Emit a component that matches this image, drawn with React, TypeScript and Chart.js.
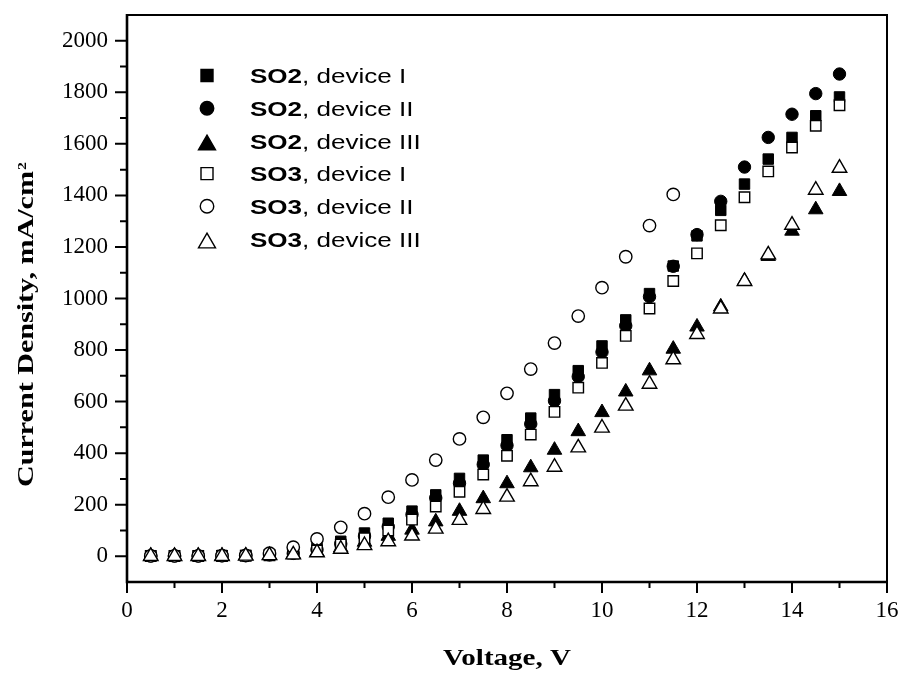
import React, { useEffect, useRef } from 'react';
import { Chart, registerables } from 'chart.js';

Chart.register(...registerables);

// ---------- data ----------
const voltage = [0.5, 1, 1.5, 2, 2.5, 3, 3.5, 4, 4.5, 5, 5.5, 6, 6.5, 7, 7.5, 8, 8.5, 9, 9.5, 10, 10.5, 11, 11.5, 12, 12.5, 13, 13.5, 14, 14.5, 15];

const so2DeviceI = [2, 2, 2, 3, 3, 6, 14, 32, 58, 90, 128, 175, 238, 302, 373, 452, 536, 627, 720, 816, 917, 1019, 1126, 1243, 1342, 1444, 1541, 1625, 1709, 1782];
const so2DeviceII = [1, 1, 1, 2, 2, 5, 11, 25, 48, 78, 115, 162, 226, 283, 356, 430, 513, 603, 697, 792, 894, 1007, 1125, 1248, 1377, 1510, 1625, 1715, 1795, 1871];
const so2DeviceIII = [1, 1, 1, 1, 2, 3, 7, 16, 33, 55, 78, 102, 134, 175, 224, 282, 344, 412, 484, 558, 638, 720, 804, 890, 968, 1068, 1164, 1262, 1345, 1416];
const so3DeviceI = [1, 1, 1, 1, 2, 4, 10, 22, 45, 70, 100, 142, 193, 250, 317, 390, 472, 560, 654, 750, 855, 961, 1068, 1175, 1284, 1393, 1493, 1586, 1670, 1750];
const so3DeviceII = [1, 1, 1, 2, 3, 12, 35, 67, 112, 165, 229, 296, 373, 455, 539, 632, 726, 827, 932, 1042, 1162, 1283, 1404];
const so3DeviceIII = [0, 0, 0, 0, 1, 3, 6, 14, 28, 42, 57, 79, 106, 140, 182, 230, 290, 346, 421, 498, 583, 668, 763, 861, 960, 1067, 1170, 1285, 1421, 1506];

const xMajorTicks = [0, 2, 4, 6, 8, 10, 12, 14, 16];
const xMinorTicks = [1, 3, 5, 7, 9, 11, 13, 15];
const yMajorTicks = [0, 200, 400, 600, 800, 1000, 1200, 1400, 1600, 1800, 2000];
const yMinorTicks = [100, 300, 500, 700, 900, 1100, 1300, 1500, 1700, 1900];
const xRange = [0, 16];
const yRange = [-100, 2100];

const xTitle = 'Voltage, V';
const yTitle = 'Current Density, mA/cm';
const yTitleSup = '2';

const compounds = ['SO2', 'SO2', 'SO2', 'SO3', 'SO3', 'SO3'];
const devices = ['device I', 'device II', 'device III', 'device I', 'device II', 'device III'];
const seriesValues = [so2DeviceI, so2DeviceII, so2DeviceIII, so3DeviceI, so3DeviceII, so3DeviceIII];
const markerShapes = ['rect', 'circle', 'triangle', 'rect', 'circle', 'triangle'];
const markerFilled = [true, true, true, false, false, false];

// ---------- styles ----------
const SERIF = "'Liberation Serif', 'Times New Roman', Times, serif";
const SANS = "'Liberation Sans', Arial, Helvetica, sans-serif";
const pointRadius: Record<string, number> = { rect: 7.4, circle: 6.2, triangle: 8.4 };
const legendSize: Record<string, number> = { rect: 12, circle: 13.5, triangle: 17 };

function drawMarker(ctx: CanvasRenderingContext2D, shape: string, filled: boolean, x: number, y: number, size: number) {
  ctx.save();
  ctx.lineWidth = 1.4;
  ctx.strokeStyle = '#000';
  ctx.fillStyle = filled ? '#000' : '#fff';
  ctx.beginPath();
  if (shape === 'rect') {
    ctx.rect(x - size / 2, y - size / 2, size, size);
  } else if (shape === 'circle') {
    ctx.arc(x, y, size / 2, 0, Math.PI * 2);
  } else {
    const h = size * 0.866;
    ctx.moveTo(x, y - h / 2);
    ctx.lineTo(x + size / 2, y + h / 2);
    ctx.lineTo(x - size / 2, y + h / 2);
    ctx.closePath();
  }
  ctx.fill();
  ctx.stroke();
  ctx.restore();
}

function stretchedText(ctx: CanvasRenderingContext2D, text: string, x: number, y: number, sx: number) {
  ctx.save();
  ctx.translate(x, y);
  ctx.scale(sx, 1);
  ctx.fillText(text, 0, 0);
  ctx.restore();
}

const decorPlugin = {
  id: 'decor',
  afterDraw(chart: any) {
    const { ctx, chartArea: a, scales } = chart;
    const xs = scales.x;
    const ys = scales.y;
    ctx.save();
    ctx.strokeStyle = '#000';
    ctx.fillStyle = '#000';
    ctx.lineCap = 'butt';

    // frame
    ctx.lineWidth = 2;
    ctx.strokeRect(a.left, a.top, a.right - a.left, a.bottom - a.top);
    ctx.lineWidth = 2.6;
    ctx.beginPath();
    ctx.moveTo(a.left, a.top - 1);
    ctx.lineTo(a.left, a.bottom);
    ctx.lineTo(a.right + 1, a.bottom);
    ctx.stroke();

    // ticks
    ctx.lineWidth = 2;
    ctx.beginPath();
    xMajorTicks.forEach((v) => {
      const p = xs.getPixelForValue(v);
      ctx.moveTo(p, a.bottom);
      ctx.lineTo(p, a.bottom + 11);
    });
    xMinorTicks.forEach((v) => {
      const p = xs.getPixelForValue(v);
      ctx.moveTo(p, a.bottom);
      ctx.lineTo(p, a.bottom + 6);
    });
    yMajorTicks.forEach((v) => {
      const p = ys.getPixelForValue(v);
      ctx.moveTo(a.left, p);
      ctx.lineTo(a.left - 12, p);
    });
    yMinorTicks.forEach((v) => {
      const p = ys.getPixelForValue(v);
      ctx.moveTo(a.left, p);
      ctx.lineTo(a.left - 7, p);
    });
    ctx.stroke();

    // x title
    ctx.font = `bold 24px ${SERIF}`;
    ctx.textBaseline = 'alphabetic';
    ctx.textAlign = 'center';
    stretchedText(ctx, xTitle, (a.left + a.right) / 2, a.bottom + 83, 1.21);

    // y title (rotated)
    ctx.save();
    ctx.translate(33, a.bottom - 95);
    ctx.rotate(-Math.PI / 2);
    ctx.textAlign = 'left';
    ctx.font = `bold 24px ${SERIF}`;
    const w = ctx.measureText(yTitle).width;
    const sy = 316 / w;
    stretchedText(ctx, yTitle, 0, 0, sy);
    ctx.font = `bold 13px ${SERIF}`;
    stretchedText(ctx, yTitleSup, w * sy + 1, -7, 1.2);
    ctx.restore();

    // legend
    const lx = a.left + 80;
    const tx = a.left + 123;
    const ty0 = a.top + 60.5;
    const dy = 32.7;
    const sxL = 1.24;
    ctx.textAlign = 'left';
    ctx.textBaseline = 'alphabetic';
    compounds.forEach((c, i) => {
      const cy = ty0 + i * dy;
      const shape = markerShapes[i];
      const off = shape === 'triangle' ? 1.5 : 0;
      drawMarker(ctx, shape, markerFilled[i], lx, cy + off, legendSize[shape]);
      ctx.font = `bold 21px ${SANS}`;
      stretchedText(ctx, c, tx, cy + 7.8, sxL);
      const bw = ctx.measureText(c).width * sxL;
      ctx.font = `21px ${SANS}`;
      stretchedText(ctx, ', ' + devices[i], tx + bw, cy + 7.8, sxL);
    });

    ctx.restore();
  },
};

export default function App() {
  const canvasRef = useRef<HTMLCanvasElement | null>(null);

  useEffect(() => {
    const canvas = canvasRef.current;
    if (!canvas) return;
    const datasets = seriesValues.map((vals, i) => {
      const shape = markerShapes[i];
      const filled = markerFilled[i];
      return {
        label: `${compounds[i]}, ${devices[i]}`,
        data: vals.map((v, j) => ({ x: voltage[j], y: v })),
        pointStyle: shape,
        pointRadius: pointRadius[shape],
        pointHoverRadius: pointRadius[shape],
        backgroundColor: filled ? '#000' : '#fff',
        borderColor: '#000',
        borderWidth: filled ? 1 : 1.4,
        showLine: false,
        order: 6 - i,
      };
    });

    const zeroPadding = (s: any) => {
      s.paddingTop = 0;
      s.paddingBottom = 0;
      s.paddingLeft = 0;
      s.paddingRight = 0;
    };

    const chart = new Chart(canvas, {
      type: 'scatter',
      data: { datasets },
      options: {
        responsive: false,
        animation: false,
        devicePixelRatio: 1,
        layout: { padding: { top: 15, right: 16, left: 0, bottom: 0 }, autoPadding: false },
        plugins: {
          legend: { display: false },
          tooltip: { enabled: false },
          title: { display: false },
        },
        scales: {
          x: {
            type: 'linear',
            min: xRange[0],
            max: xRange[1],
            grid: { display: false, drawTicks: false },
            border: { display: false },
            afterBuildTicks: (s: any) => {
              s.ticks = xMajorTicks.map((v) => ({ value: v }));
            },
            afterFit: (s: any) => {
              s.height = 95;
              zeroPadding(s);
            },
            ticks: {
              color: '#000',
              padding: 15,
              maxRotation: 0,
              autoSkip: false,
              font: { family: SERIF, size: 23 },
              callback: (v: any) => String(v),
            },
          },
          y: {
            type: 'linear',
            min: yRange[0],
            max: yRange[1],
            grid: { display: false, drawTicks: false },
            border: { display: false },
            afterBuildTicks: (s: any) => {
              s.ticks = yMajorTicks.map((v) => ({ value: v }));
            },
            afterFit: (s: any) => {
              s.width = 127;
              zeroPadding(s);
            },
            ticks: {
              color: '#000',
              padding: 19,
              autoSkip: false,
              font: { family: SERIF, size: 23 },
              callback: (v: any) => String(v),
            },
          },
        },
      },
      plugins: [decorPlugin],
    } as any);

    return () => chart.destroy();
  }, []);

  return (
    <div style={{ position: 'fixed', left: 0, top: 0, width: 903, height: 677, background: '#fff' }}>
      <canvas ref={canvasRef} width={903} height={677} style={{ display: 'block' }} />
    </div>
  );
}
